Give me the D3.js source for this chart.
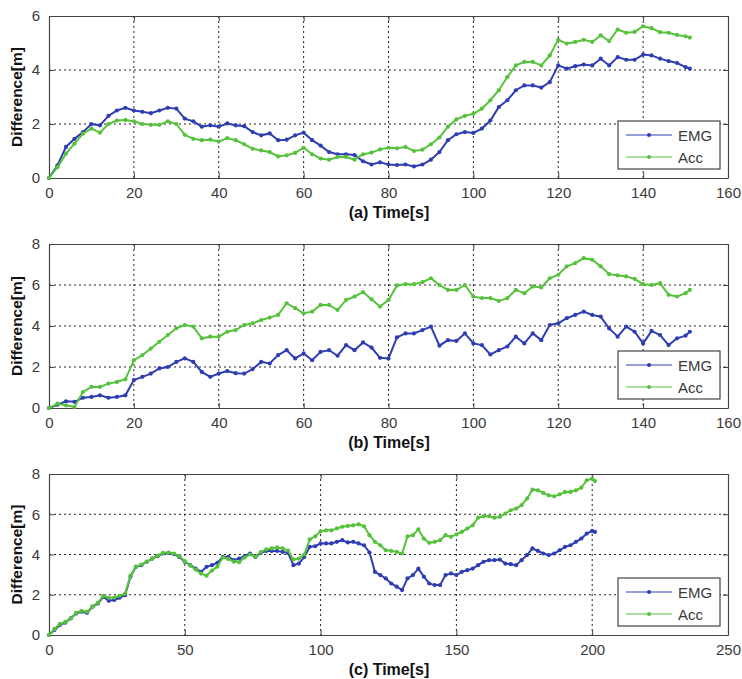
<!DOCTYPE html>
<html>
<head>
<meta charset="utf-8">
<script src="https://cdn.jsdelivr.net/npm/d3@7"></script>
<style>
  html, body { margin: 0; padding: 0; background: #fff; }
  svg { display: block; font-family: "Liberation Sans", Arial, sans-serif; }
</style>
</head>
<body>
<div id="chart"></div>
<script>
// Temps (s) pour les panneaux (a) et (b)
const timeAB = [0,2,4,6,8,10,12,14,16,18,20,22,24,26,28,30,32,34,36,38,40,42,44,46,48,50,52,54,56,58,
  60,62,64,66,68,70,72,74,76,78,80,82,84,86,88,90,92,94,96,98,100,102,104,106,108,110,112,114,116,118,
  120,122,124,126,128,130,132,134,136,138,140,142,144,146,148,150,151];

// Temps (s) pour le panneau (c)
const timeC = [0,2,4,6,8,10,12,14,16,18,20,22,24,26,28,30,32,34,36,38,40,42,44,46,48,50,52,54,56,58,
  60,62,64,66,68,70,72,74,76,78,80,82,84,86,88,90,92,94,96,98,100,102,104,106,108,110,112,114,116,118,
  120,122,124,126,128,130,132,134,136,138,140,142,144,146,148,150,152,154,156,158,160,162,164,166,168,170,
  172,174,176,178,180,182,184,186,188,190,192,194,196,198,200,201];

// (a)
const emgA = [0,0.47,1.15,1.45,1.7,2.0,1.95,2.3,2.5,2.6, 2.5,2.45,2.4,2.5,2.6,2.57,2.2,2.1,1.9,1.95,
  1.9,2.02,1.95,1.92,1.7,1.58,1.65,1.4,1.42,1.58, 1.68,1.4,1.2,0.96,0.88,0.88,0.85,0.62,0.5,0.58,
  0.5,0.48,0.5,0.43,0.5,0.68,0.96,1.4,1.62,1.7, 1.67,1.83,2.13,2.63,2.88,3.25,3.43,3.43,3.35,3.55,
  4.17,4.05,4.14,4.2,4.17,4.42,4.17,4.48,4.38,4.38, 4.57,4.54,4.42,4.33,4.26,4.11,4.05];
const accA = [0,0.4,0.9,1.27,1.64,1.83,1.68,2.0,2.13,2.15, 2.1,2.0,1.97,1.97,2.1,2.0,1.6,1.45,1.4,1.42,
  1.35,1.48,1.4,1.25,1.08,1.02,0.96,0.8,0.84,0.93, 1.12,0.88,0.72,0.68,0.78,0.78,0.68,0.88,0.94,1.06,
  1.12,1.1,1.15,1.0,1.05,1.25,1.5,1.9,2.17,2.3, 2.38,2.57,2.88,3.25,3.74,4.17,4.3,4.3,4.17,4.54,
  5.12,4.98,5.04,5.12,5.04,5.28,5.07,5.5,5.38,5.41, 5.62,5.55,5.4,5.38,5.3,5.25,5.2];

// (b)
const emgB = [0,0.16,0.33,0.3,0.5,0.54,0.62,0.5,0.54,0.62, 1.36,1.52,1.68,1.93,2.0,2.25,2.42,2.25,1.76,1.52,
  1.68,1.8,1.7,1.68,1.9,2.25,2.17,2.58,2.82,2.42, 2.66,2.33,2.74,2.82,2.55,3.07,2.82,3.2,2.95,2.45,
  2.42,3.45,3.64,3.64,3.8,3.97,3.04,3.31,3.27,3.64, 3.15,3.07,2.61,2.82,3.0,3.48,3.15,3.64,3.31,4.05,
  4.13,4.38,4.54,4.7,4.54,4.46,3.88,3.48,3.97,3.72, 3.15,3.76,3.56,3.07,3.4,3.53,3.72];
const accB = [0,0.21,0.13,0.05,0.78,1.03,1.03,1.19,1.27,1.4, 2.33,2.58,2.9,3.23,3.56,3.89,4.05,3.97,3.4,3.48,
  3.48,3.72,3.8,4.05,4.13,4.29,4.41,4.54,5.11,4.87, 4.62,4.7,5.03,5.03,4.78,5.27,5.44,5.65,5.3,4.95,
  5.27,5.98,6.04,6.04,6.14,6.33,6.0,5.76,5.76,6.0, 5.44,5.36,5.36,5.22,5.36,5.76,5.6,5.93,5.88,6.33,
  6.5,6.91,7.07,7.31,7.23,6.91,6.53,6.47,6.42,6.3, 6.04,6.0,6.09,5.52,5.44,5.6,5.76];

// (c)
const emgC = [0,0.25,0.5,0.61,0.83,1.07,1.16,1.1,1.4,1.57, 1.9,1.7,1.74,1.85,1.98,2.9,3.39,3.47,3.64,3.8,
  3.92,4.05,4.08,4.02,3.88,3.64,3.47,3.3,3.14,3.39, 3.47,3.59,3.88,3.88,3.72,3.8,3.92,4.05,3.88,4.08,
  4.18,4.18,4.18,4.13,4.08,3.47,3.55,3.88,4.38,4.41, 4.55,4.55,4.55,4.63,4.71,4.6,4.63,4.55,4.46,4.1,
  3.14,2.98,2.81,2.56,2.4,2.23,2.81,2.98,3.3,2.9, 2.56,2.48,2.48,2.98,3.06,2.98,3.14,3.22,3.3,3.47,
  3.64,3.72,3.72,3.75,3.55,3.52,3.47,3.72,3.97,4.3, 4.18,4.05,3.97,4.05,4.21,4.38,4.46,4.63,4.79,5.04,
  5.17,5.12];
const accC = [0,0.3,0.55,0.65,0.82,1.1,1.2,1.15,1.42,1.6, 1.95,1.85,1.86,1.95,2.05,2.95,3.4,3.5,3.65,3.8,
  3.95,4.08,4.1,4.05,3.92,3.67,3.45,3.25,3.05,2.95, 3.2,3.4,3.85,3.78,3.65,3.62,3.85,4.0,3.9,4.12,
  4.25,4.3,4.35,4.3,4.2,3.75,3.8,4.0,4.75,4.9, 5.15,5.2,5.2,5.3,5.38,5.42,5.45,5.5,5.4,4.96,
  4.63,4.46,4.21,4.18,4.13,4.05,4.9,4.96,5.25,4.79, 4.58,4.63,4.71,4.96,4.88,5.0,5.12,5.29,5.45,5.83,
  5.9,5.9,5.83,5.87,6.03,6.2,6.28,6.45,6.78,7.22, 7.19,7.06,6.94,6.89,6.99,7.11,7.11,7.19,7.32,7.69,
  7.77,7.65];

const seriesNames = ['EMG', 'Acc'];
const seriesColors = ['#2f3db3', '#56c23c'];

const panels = [
  { label: '(a) Time[s]', time: timeAB, series: [emgA, accA], xMax: 160, xTicks: [0,20,40,60,80,100,120,140,160], yMax: 6, yTicks: [0,2,4,6], top: 16, bottom: 178 },
  { label: '(b) Time[s]', time: timeAB, series: [emgB, accB], xMax: 160, xTicks: [0,20,40,60,80,100,120,140,160], yMax: 8, yTicks: [0,2,4,6,8], top: 244, bottom: 408 },
  { label: '(c) Time[s]', time: timeC, series: [emgC, accC], xMax: 250, xTicks: [0,50,100,150,200,250], yMax: 8, yTicks: [0,2,4,6,8], top: 474, bottom: 635 }
];

const width = 742, height = 679;
const left = 49, right = 728;
const fmt = d3.format('d');

const svg = d3.select('#chart').append('svg')
  .attr('width', width)
  .attr('height', height);

panels.forEach(p => {
  const x = d3.scaleLinear().domain([0, p.xMax]).range([left, right]);
  const y = d3.scaleLinear().domain([0, p.yMax]).range([p.bottom, p.top]);
  const g = svg.append('g');

  // grille pointillée
  g.selectAll('.gx').data(p.xTicks.slice(1, -1)).enter().append('line')
    .attr('x1', d => x(d)).attr('x2', d => x(d))
    .attr('y1', p.top).attr('y2', p.bottom)
    .attr('stroke', '#222').attr('stroke-width', 1).attr('stroke-dasharray', '2,3');
  g.selectAll('.gy').data(p.yTicks.slice(1, -1)).enter().append('line')
    .attr('x1', left).attr('x2', right)
    .attr('y1', d => y(d)).attr('y2', d => y(d))
    .attr('stroke', '#222').attr('stroke-width', 1).attr('stroke-dasharray', '2,3');

  // axes (ticks intérieurs, style MATLAB)
  const axB = g.append('g').attr('transform', `translate(0,${p.bottom})`)
    .call(d3.axisBottom(x).tickValues(p.xTicks).tickFormat(fmt).tickSizeInner(-5).tickSizeOuter(0).tickPadding(9));
  const axT = g.append('g').attr('transform', `translate(0,${p.top})`)
    .call(d3.axisTop(x).tickValues(p.xTicks).tickSizeInner(-5).tickSizeOuter(0).tickFormat(''));
  const axL = g.append('g').attr('transform', `translate(${left},0)`)
    .call(d3.axisLeft(y).tickValues(p.yTicks).tickFormat(fmt).tickSizeInner(-5).tickSizeOuter(0).tickPadding(9));
  const axR = g.append('g').attr('transform', `translate(${right},0)`)
    .call(d3.axisRight(y).tickValues(p.yTicks).tickSizeInner(-5).tickSizeOuter(0).tickFormat(''));
  [axB, axT, axL, axR].forEach(a => {
    a.select('.domain').attr('stroke', '#444').attr('stroke-width', 1.2);
    a.selectAll('.tick line').attr('stroke', '#444');
    a.selectAll('text').attr('font-size', 15).attr('fill', '#3a3a3a')
      .attr('font-family', '"Liberation Sans", Arial, sans-serif');
  });

  // courbes
  p.series.forEach((vals, si) => {
    const pts = vals.map((v, i) => [p.time[i], v]);
    const line = d3.line().x(d => x(d[0])).y(d => y(d[1]));
    g.append('path').datum(pts)
      .attr('d', line)
      .attr('fill', 'none')
      .attr('stroke', seriesColors[si])
      .attr('stroke-width', 2);
    g.selectAll('.m' + si).data(pts).enter().append('circle')
      .attr('cx', d => x(d[0])).attr('cy', d => y(d[1]))
      .attr('r', 2.1)
      .attr('fill', seriesColors[si]);
  });

  // libellés
  g.append('text')
    .attr('x', 389).attr('y', p.bottom + 40)
    .attr('text-anchor', 'middle')
    .attr('font-size', 16).attr('font-weight', 'bold').attr('fill', '#111')
    .text(p.label);
  g.append('text')
    .attr('transform', `translate(22,${(p.top + p.bottom) / 2}) rotate(-90)`)
    .attr('text-anchor', 'middle')
    .attr('font-size', 15.5).attr('font-weight', 'bold').attr('fill', '#111')
    .text('Difference[m]');

  // légende
  const lg = g.append('g').attr('transform', `translate(618,${p.bottom - 57})`);
  lg.append('rect')
    .attr('width', 102).attr('height', 48)
    .attr('fill', '#fff').attr('stroke', '#444').attr('stroke-width', 1.2);
  seriesNames.forEach((name, i) => {
    const ly = 14 + i * 22;
    lg.append('line')
      .attr('x1', 8).attr('x2', 54).attr('y1', ly).attr('y2', ly)
      .attr('stroke', seriesColors[i]).attr('stroke-width', 1.2);
    lg.append('circle').attr('cx', 31).attr('cy', ly).attr('r', 2).attr('fill', seriesColors[i]);
    lg.append('text')
      .attr('x', 60).attr('y', ly + 5.5)
      .attr('font-size', 15).attr('fill', '#3a3a3a')
      .text(name);
  });
});
</script>
</body>
</html>
